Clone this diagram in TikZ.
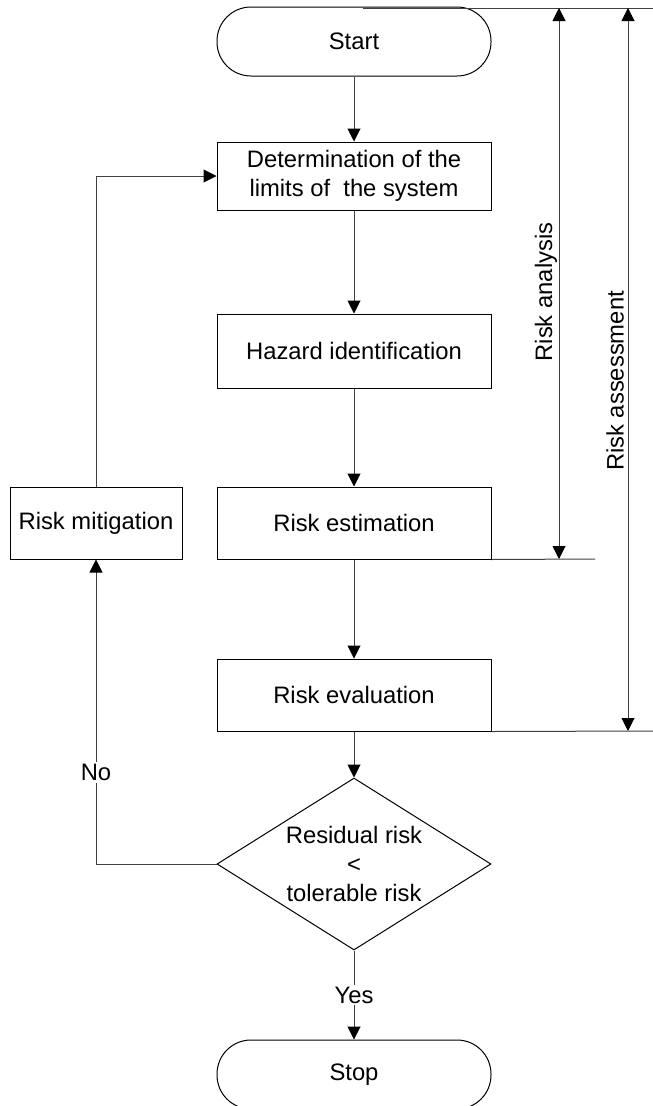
\documentclass[tikz,border=0pt]{standalone}
\usepackage{fontspec}
\setmainfont{Liberation Sans}
\usetikzlibrary{shapes.geometric,arrows.meta}
\begin{document}
\begin{tikzpicture}[x=1pt,y=-1pt,
  font=\fontsize{23.8}{29}\selectfont,
  box/.style={draw=black,line width=1pt,minimum width=274pt,inner sep=0pt,align=center},
  term/.style={box,rounded corners=34pt,minimum height=69pt},
  decision/.style={draw=black,line width=1pt,diamond,minimum width=274pt,minimum height=172pt,inner sep=0pt,aspect=1.6,align=center},
  conn/.style={draw=black!75,line width=1pt},
  arr/.style={conn,-{Triangle[length=13pt,width=13pt,color=black]}},
  darr/.style={conn,{Triangle[length=13pt,width=13pt,color=black]}-{Triangle[length=13pt,width=13pt,color=black]}},
  lbl/.style={fill=white,inner sep=2pt}
]
\useasboundingbox (0,0) rectangle (653,1106);
\node[term] (start) at (354,41.5) {Start};
\node[box,minimum height=68pt] (limits) at (354,176) {Determination of the\\limits of \ the system};
\node[box,minimum height=74pt] (hazard) at (354,351) {Hazard identification};
\node[box,minimum height=72pt] (est) at (354,523) {Risk estimation};
\node[box,minimum height=72pt] (eval) at (354,695) {Risk evaluation};
\node[decision] (dec) at (354,864) {Residual risk\\<\\tolerable risk};
\node[term] (stop) at (354,1074.5) {Stop};
\node[box,minimum width=172pt,minimum height=72pt] (mit) at (96,523) {Risk mitigation};

\draw[arr] (start) -- (limits);
\draw[arr] (limits) -- (hazard);
\draw[arr] (hazard) -- (est);
\draw[arr] (est) -- (eval);
\draw[arr] (eval) -- (dec);
\draw[arr] (dec.south) -- node[lbl] {Yes} (stop.north);
\draw[arr] (mit.north) |- (limits.west);
\draw[arr] (dec.west) -| node[lbl,pos=0.65] {No} (mit.south);

\coordinate (tl) at (363,8);
\coordinate (tr) at (653,8);
\coordinate (a1t) at (559,8);
\coordinate (a1b) at (559,559);
\coordinate (h1e) at (595,559);
\coordinate (a2t) at (628,8);
\coordinate (a2b) at (628,731);
\coordinate (h2e) at (653,731);
\draw[conn] (tl) -- (tr);
\draw[darr] (a1t) -- (a1b);
\draw[darr] (a2t) -- (a2b);
\draw[conn] (est.south east) -- (h1e);
\draw[conn] (eval.south east) -- (h2e);
\node[rotate=90] (ra) at (546,292) {Risk analysis};
\node[rotate=90] (ras) at (615,381) {Risk assessment};
\end{tikzpicture}
\end{document}
